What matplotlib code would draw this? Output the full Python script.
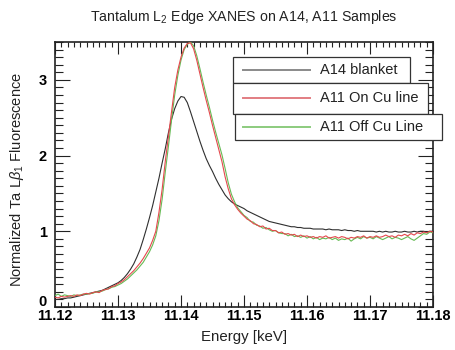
import numpy as np
import matplotlib
matplotlib.use("Agg")
import matplotlib.pyplot as plt
from matplotlib.ticker import FixedLocator, MultipleLocator
from matplotlib.patches import Rectangle
from matplotlib.lines import Line2D
from matplotlib.transforms import ScaledTranslation

plt.rcParams["font.family"] = ["Liberation Sans", "DejaVu Sans"]
plt.rcParams["mathtext.fontset"] = "custom"
plt.rcParams["mathtext.rm"] = "Liberation Sans"
plt.rcParams["mathtext.it"] = "Liberation Sans:italic"

# Energy grid (keV), 0.5 eV steps
energy = np.linspace(11.12, 11.18, 121)

a14_blanket = [
    0.10, 0.10, 0.11, 0.11, 0.12, 0.12, 0.13, 0.14, 0.15, 0.16,
    0.17, 0.18, 0.19, 0.20, 0.21, 0.22, 0.24, 0.26, 0.28, 0.30,
    0.32, 0.35, 0.39, 0.44, 0.50, 0.57, 0.66, 0.76, 0.89, 1.03,
    1.18, 1.34, 1.52, 1.70, 1.90, 2.09, 2.30, 2.48, 2.62, 2.72,
    2.78, 2.77, 2.70, 2.58, 2.45, 2.32, 2.19, 2.07, 1.96, 1.87,
    1.79, 1.70, 1.62, 1.55, 1.48, 1.43, 1.39, 1.36, 1.34, 1.32,
    1.30, 1.27, 1.25, 1.23, 1.21, 1.19, 1.17, 1.15, 1.13, 1.12,
    1.11, 1.10, 1.09, 1.08, 1.07, 1.06, 1.06, 1.05, 1.05, 1.04,
    1.04, 1.04, 1.03, 1.03, 1.03, 1.03, 1.02, 1.03, 1.02, 1.02,
    1.02, 1.01, 1.02, 1.01, 1.01, 1.00, 1.01, 1.00, 1.00, 1.00,
    1.00, 1.00, 0.99, 1.00, 0.99, 1.00, 0.99, 0.99, 1.00, 0.99,
    0.99, 1.00, 0.99, 0.99, 1.00, 0.99, 1.00, 1.00, 0.99, 1.00, 1.00,
]

a11_on_cu = [
    0.13, 0.12, 0.14, 0.13, 0.14, 0.15, 0.14, 0.16, 0.15, 0.17,
    0.18, 0.17, 0.19, 0.20, 0.19, 0.22, 0.23, 0.24, 0.27, 0.28,
    0.31, 0.33, 0.36, 0.40, 0.44, 0.48, 0.53, 0.58, 0.64, 0.71,
    0.78, 0.88, 1.00, 1.25, 1.55, 1.92, 2.25, 2.58, 2.90, 3.13,
    3.30, 3.42, 3.48, 3.49, 3.41, 3.26, 3.08, 2.90, 2.73, 2.57,
    2.40, 2.24, 2.08, 1.92, 1.72, 1.56, 1.43, 1.35, 1.29, 1.24,
    1.20, 1.16, 1.14, 1.10, 1.09, 1.06, 1.07, 1.03, 1.04, 1.01,
    1.01, 0.98, 0.99, 0.96, 0.97, 0.95, 0.96, 0.93, 0.95, 0.93,
    0.94, 0.92, 0.93, 0.91, 0.93, 0.92, 0.94, 0.91, 0.92, 0.93,
    0.91, 0.93, 0.92, 0.90, 0.92, 0.91, 0.93, 0.92, 0.94, 0.91,
    0.93, 0.92, 0.94, 0.92, 0.93, 0.95, 0.93, 0.94, 0.92, 0.95,
    0.94, 0.96, 0.94, 0.97, 0.95, 0.98, 0.97, 0.99, 0.98, 1.00, 0.99,
]

a11_off_cu = [
    0.15, 0.17, 0.14, 0.16, 0.15, 0.14, 0.16, 0.15, 0.16, 0.17,
    0.17, 0.18, 0.18, 0.20, 0.20, 0.21, 0.23, 0.24, 0.26, 0.27,
    0.29, 0.31, 0.34, 0.37, 0.41, 0.45, 0.49, 0.54, 0.59, 0.66,
    0.73, 0.82, 0.94, 1.14, 1.42, 1.78, 2.12, 2.47, 2.80, 3.06,
    3.26, 3.40, 3.47, 3.50, 3.45, 3.32, 3.15, 2.97, 2.80, 2.64,
    2.47, 2.31, 2.16, 2.01, 1.83, 1.64, 1.49, 1.39, 1.31, 1.26,
    1.21, 1.18, 1.13, 1.12, 1.08, 1.07, 1.04, 1.05, 1.02, 1.00,
    1.01, 0.98, 0.97, 0.97, 0.94, 0.96, 0.93, 0.94, 0.92, 0.94,
    0.91, 0.93, 0.90, 0.92, 0.89, 0.91, 0.90, 0.92, 0.89, 0.91,
    0.88, 0.90, 0.89, 0.91, 0.87, 0.90, 0.92, 0.90, 0.93, 0.91,
    0.92, 0.90, 0.93, 0.91, 0.89, 0.91, 0.93, 0.90, 0.92, 0.91,
    0.89, 0.91, 0.93, 0.90, 0.88, 0.91, 0.94, 0.97, 0.96, 0.99, 0.98,
]

x_ticks = [11.12, 11.13, 11.14, 11.15, 11.16, 11.17, 11.18]
y_ticks = [0, 1, 2, 3]

series_labels = ["A14 blanket", "A11 On Cu line", "A11 Off Cu Line"]
series_colors = ["#2f2f2f", "#e5484d", "#66bb55"]
legend_colors = ["#8a8a8a", "#e27d82", "#8ccb7e"]

W, H = 455, 350
fig = plt.figure(figsize=(W / 100, H / 100), dpi=100)
L, R, T, B = 55, 433, 42, 307
ax = fig.add_axes([L / W, 1 - B / H, (R - L) / W, (B - T) / H])

ax.plot(energy, a14_blanket, color=series_colors[0], lw=0.8, zorder=3)
ax.plot(energy, a11_off_cu, color=series_colors[2], lw=0.8, zorder=3)
ax.plot(energy, a11_on_cu, color=series_colors[1], lw=0.8, zorder=4)

ax.set_xlim(11.12, 11.18)
ax.set_ylim(0, 3.5)
ax.xaxis.set_major_locator(FixedLocator(x_ticks))
ax.xaxis.set_minor_locator(MultipleLocator(0.001))
ax.yaxis.set_major_locator(FixedLocator(y_ticks))
ax.yaxis.set_minor_locator(MultipleLocator(0.1))
ax.set_xticklabels([f"{v:.2f}" for v in x_ticks], fontsize=10.5, fontweight="bold")
ax.set_yticklabels([str(v) for v in y_ticks], fontsize=10.5, fontweight="bold")

ax.tick_params(which="both", direction="in", top=True, right=True,
               color="#222222", width=0.8)
ax.tick_params(axis="x", which="major", length=8.5, pad=1.2)
ax.tick_params(axis="x", which="minor", length=3.6)
ax.tick_params(axis="y", which="major", length=11, pad=6)
ax.tick_params(axis="y", which="minor", length=5.5)
for s in ax.spines.values():
    s.set_linewidth(1.2)
    s.set_color("#222222")

# lift the "0" label so it clears the first energy label
zero_lbl = ax.yaxis.get_major_ticks()[0].label1
zero_lbl.set_transform(zero_lbl.get_transform() +
                       ScaledTranslation(0, 4.5 / 72, fig.dpi_scale_trans))

fig.text(244 / W, 1 - 17 / H, r"Tantalum L$_2$ Edge XANES on A14, A11 Samples",
         ha="center", va="center", fontsize=10.2, color="#222222")
fig.text(244 / W, 1 - 337 / H, "Energy [keV]", ha="center", va="center",
         fontsize=10.8, color="#222222")
fig.text(17 / W, 1 - 180 / H, r"Normalized Ta L$\beta_1$ Fluorescence",
         ha="center", va="center", rotation=90, fontsize=10.5, color="#222222")

# Stacked legend boxes (pixel extents: left, top, right, bottom)
boxes = [(233, 57, 410, 83), (233, 83, 428, 114), (235, 114, 442, 140)]
for (x0, y0, x1, y1), lab, col in zip(boxes, series_labels, legend_colors):
    fig.patches.append(Rectangle((x0 / W, 1 - y1 / H), (x1 - x0) / W, (y1 - y0) / H,
                                 transform=fig.transFigure, facecolor="white",
                                 edgecolor="#333333", lw=0.9, zorder=5))
    yc = 1 - (y0 + y1) / 2 / H
    fig.lines.append(Line2D([243 / W, 310 / W], [yc, yc], transform=fig.transFigure,
                            color=col, lw=1.4, zorder=6))
    fig.text(320 / W, yc, lab, ha="left", va="center", fontsize=10.5,
             color="#222222", zorder=6)

fig.savefig("out.png", dpi=100)
